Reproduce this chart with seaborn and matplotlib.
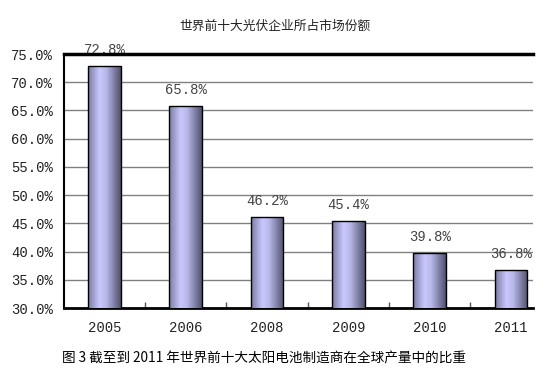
import numpy as np
import matplotlib
matplotlib.use("Agg")
import matplotlib.pyplot as plt
from matplotlib.colors import LinearSegmentedColormap
import seaborn as sns
import pandas as pd

years = ["2005", "2006", "2008", "2009", "2010", "2011"]
shares = [72.8, 65.8, 46.2, 45.4, 39.8, 36.8]
yticks = [30, 35, 40, 45, 50, 55, 60, 65, 70, 75]
title = "世界前十大光伏企业所占市场份额"
caption = "图 3 截至到 2011 年世界前十大太阳电池制造商在全球产量中的比重"

sns.set_theme(style="white")
plt.rcParams['font.family'] = ['Liberation Mono', 'Noto Sans CJK SC', 'DejaVu Sans']

W, H = 545, 377
fig = plt.figure(figsize=(W / 100, H / 100), dpi=100)
ax = fig.add_axes([63.75 / W, 1 - 308 / H, (533 - 63.75) / W, (308 - 54) / H])

YMIN, YMAX = 30, 75
df = pd.DataFrame({"year": years, "share": shares})
sns.barplot(data=df, x="year", y="share", color="#b0b0e0", width=0.4,
            edgecolor="black", linewidth=1.0, ax=ax, zorder=3)

cmap = LinearSegmentedColormap.from_list(
    "bar", [(0.0, "#7a7aa0"), (0.35, "#c8c8ff"), (0.55, "#b8b8ea"), (1.0, "#50506e")])
grad = np.linspace(0, 1, 256).reshape(1, -1)
for p in ax.patches:
    x0, y0 = p.get_x(), p.get_y()
    w, h = p.get_width(), p.get_height()
    im = ax.imshow(grad, cmap=cmap, aspect="auto",
                   extent=(x0, x0 + w, max(y0, YMIN), y0 + h),
                   zorder=3.5, interpolation="bilinear")
    im.set_clip_path(p)
    p.set_facecolor("none")
    p.set_zorder(4)

ax.set_xlim(-0.5, 5.27)
ax.set_ylim(YMIN, YMAX)
ax.set_yticks(yticks)
ax.set_yticklabels([f"{v:.1f}%" for v in yticks], fontsize=10, color="#222222")
ax.set_xticks(range(len(years)))
ax.set_xticklabels(years, fontsize=10, color="#222222")
ax.set_xticks(np.arange(0.5, 5, 1), minor=True)
ax.tick_params(axis="x", which="major", length=0, pad=9, bottom=True)
ax.tick_params(axis="x", which="minor", direction="in", length=4, width=1,
               color="#555555", bottom=True)
ax.tick_params(axis="y", length=0, pad=8)
ax.set_xlabel("")
ax.set_ylabel("")
ax.yaxis.grid(True, color="#808080", linewidth=1.0, zorder=1)
ax.set_axisbelow(True)

for s in ["left", "bottom", "top"]:
    ax.spines[s].set_color("black")
ax.spines["left"].set_linewidth(1.5)
ax.spines["bottom"].set_linewidth(2.0)
ax.spines["top"].set_linewidth(2.5)
ax.spines["right"].set_visible(False)

for i, v in enumerate(shares):
    ax.annotate(f"{v:.1f}%", (i, v), xytext=(0, 11.5), textcoords="offset points",
                ha="center", va="center", fontsize=10, color="#444444", zorder=2,
                annotation_clip=False)

fig.text(275 / W, 1 - 26 / H, title, ha="center", va="center", fontsize=9.2,
         family=['Noto Sans CJK SC', 'DejaVu Sans'], color="#222222")
fig.text(62 / W, 1 - 358 / H, caption, ha="left", va="center", fontsize=9.8,
         family=['Noto Sans CJK SC', 'DejaVu Sans'], color="black")

fig.savefig("out.png", dpi=100)
